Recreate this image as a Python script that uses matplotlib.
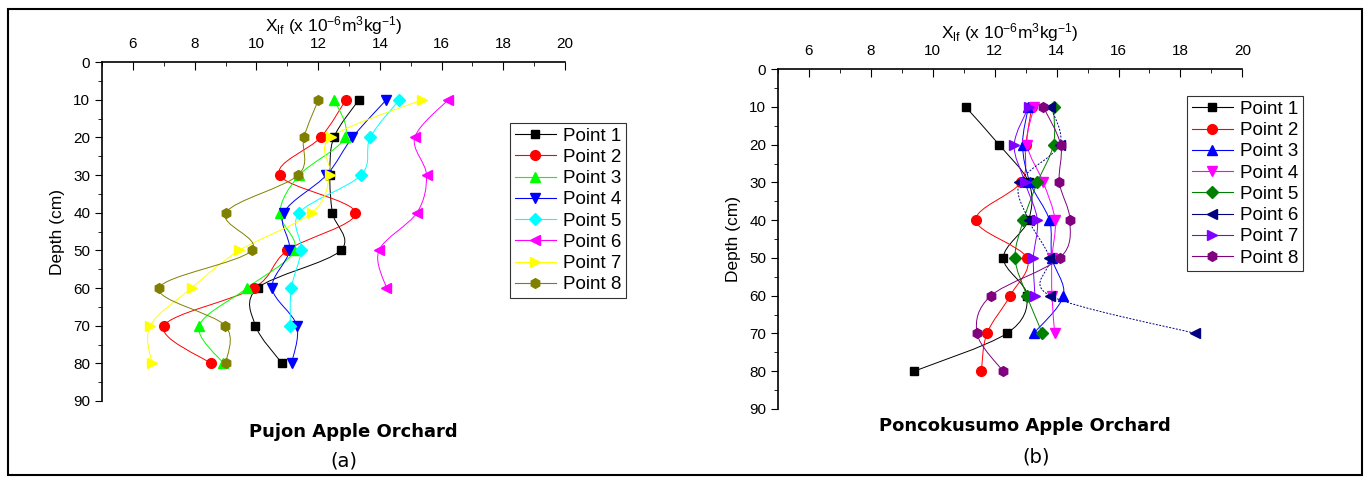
import numpy as np
import matplotlib
matplotlib.use("Agg")
import matplotlib.pyplot as plt
from matplotlib.path import Path
from matplotlib.patches import PathPatch, Rectangle
from matplotlib.lines import Line2D

plt.rcParams["font.family"] = ["Liberation Sans", "DejaVu Sans"]
plt.rcParams["mathtext.fontset"] = "custom"
plt.rcParams["mathtext.rm"] = "Liberation Sans"
plt.rcParams["mathtext.it"] = "Liberation Sans:italic"

depth = [10, 20, 30, 40, 50, 60, 70, 80]
labels = ["Point 1", "Point 2", "Point 3", "Point 4", "Point 5", "Point 6", "Point 7", "Point 8"]

# Pujon (a)
pujon = [
    [13.32, 12.51, 12.38, 12.46, 12.73, 10.04, 9.97, 10.83],
    [12.90, 12.08, 10.75, 13.21, 11.00, 9.92, 7.01, 8.52],
    [12.52, 12.87, 11.39, 10.76, 11.23, 9.70, 8.15, 8.93],
    [14.21, 13.11, 12.27, 10.89, 11.07, 10.51, 11.31, 11.14],
    [14.63, 13.69, 13.39, 11.39, 11.45, 11.13, 11.10],
    [16.21, 15.13, 15.51, 15.20, 13.97, 14.21],
    [15.37, 12.41, 12.38, 11.80, 9.45, 7.90, 6.56, 6.61],
    [12.01, 11.54, 11.35, 9.01, 9.85, 6.85, 8.99, 9.01],
]
pujon_colors = ["black", "red", "#00ff00", "#0000ff", "#00ffff", "#ff00ff", "#ffff00", "#808000"]

# Poncokusumo (b)
ponco = [
    [11.06, 12.14, 13.10, 13.09, 12.28, 13.05, 12.39, 9.40],
    [13.20, 13.00, 12.85, 11.39, 13.04, 12.50, 11.75, 11.57],
    [13.09, 12.90, 13.14, 13.77, 13.85, 14.22, 13.26],
    [13.27, 13.05, 13.57, 13.95, 13.85, 13.85, 13.94],
    [13.90, 13.90, 13.38, 12.93, 12.66, 13.04, 13.54],
    [13.80, 14.10, 12.80, 13.10, 13.77, 13.79, 18.48],
    [13.10, 12.63, 12.98, 13.38, 13.25, 13.30],
    [13.57, 14.13, 14.09, 14.43, 14.11, 11.88, 11.43, 12.27],
]
ponco_colors = ["black", "red", "#0000ff", "#ff00ff", "#008000", "#000080", "#8000ff", "#800080"]

markers = ["s", "o", "^", "v", "D", "<", ">", "h"]
msizes = [6, 7, 7, 7, 6, 7, 7, 7]


def smooth_path(xs, ys):
    # catmull-rom curve through the points as cubic bezier segments
    pts = np.column_stack([xs, ys])
    n = len(pts)
    verts = [pts[0]]
    codes = [Path.MOVETO]
    for i in range(n - 1):
        p0 = pts[i - 1] if i > 0 else pts[i]
        p1 = pts[i]
        p2 = pts[i + 1]
        p3 = pts[i + 2] if i + 2 < n else pts[i + 1]
        c1 = p1 + (p2 - p0) / 6.0
        c2 = p2 - (p3 - p1) / 6.0
        verts += [c1, c2, p2]
        codes += [Path.CURVE4] * 3
    return Path(verts, codes)


def draw_panel(ax, data, colors, dashed6):
    handles = []
    for i, vals in enumerate(data):
        d = depth[:len(vals)]
        ls = (0, (2, 1.5)) if (dashed6 and i == 5) else "-"
        ax.add_patch(PathPatch(smooth_path(vals, d), facecolor="none",
                               edgecolor=colors[i], lw=0.7, linestyle=ls, zorder=2))
        ax.plot(vals, d, linestyle="none", marker=markers[i], color=colors[i],
                markersize=msizes[i], zorder=3)
        handles.append(Line2D([], [], color=colors[i], lw=0.8, marker=markers[i],
                              markersize=msizes[i]))
    ax.set_xlim(5, 20)
    ax.set_ylim(90, 0)
    ax.xaxis.tick_top()
    ax.xaxis.set_label_position("top")
    ax.set_xticks(range(6, 21, 2))
    ax.set_xticks(range(5, 21, 1), minor=True)
    ax.set_yticks(range(0, 91, 10))
    ax.set_yticks(range(5, 91, 10), minor=True)
    ax.tick_params(axis="x", which="both", direction="in", labelsize=11, pad=8)
    ax.tick_params(axis="x", which="major", length=6)
    ax.tick_params(axis="x", which="minor", length=3)
    ax.tick_params(axis="y", which="major", direction="out", length=5, labelsize=11)
    ax.tick_params(axis="y", which="minor", direction="out", length=3)
    for s in ["right", "bottom"]:
        ax.spines[s].set_visible(False)
    ax.spines["left"].set_linewidth(1.2)
    ax.spines["top"].set_linewidth(1.2)
    ax.set_xlabel(r"X$_{\mathrm{lf}}$ (x 10$^{-6}$m$^{3}$kg$^{-1}$)", fontsize=12.5, labelpad=4)
    ax.set_ylabel("Depth (cm)", fontsize=12.5, labelpad=6)
    return handles


fig = plt.figure(figsize=(13.66, 4.8), dpi=100)
ax1 = fig.add_axes([0.0747, 0.1646, 0.339, 0.706])
ax2 = fig.add_axes([0.5695, 0.148, 0.340, 0.708])

h1 = draw_panel(ax1, pujon, pujon_colors, False)
h2 = draw_panel(ax2, ponco, ponco_colors, True)

for ax, h, anchor in [(ax1, h1, (0.3734, 0.744)), (ax2, h2, (0.869, 0.80))]:
    leg = ax.legend(h, labels, loc="upper left", bbox_to_anchor=anchor,
                    bbox_transform=fig.transFigure, fontsize=13.5, frameon=True,
                    fancybox=False, edgecolor="black", handlelength=2.2,
                    handletextpad=0.35, borderpad=0.25, labelspacing=0.22,
                    borderaxespad=0)
    leg.get_frame().set_linewidth(0.8)

fig.text(353 / 1366, 1 - 432 / 480, "Pujon Apple Orchard", ha="center", va="center",
         fontsize=13, fontweight="bold", family="DejaVu Sans")
fig.text(344 / 1366, 1 - 461 / 480, "(a)", ha="center", va="center", fontsize=14,
         family="DejaVu Sans")
fig.text(1025 / 1366, 1 - 426 / 480, "Poncokusumo Apple Orchard", ha="center", va="center",
         fontsize=13, fontweight="bold", family="DejaVu Sans")
fig.text(1036 / 1366, 1 - 457 / 480, "(b)", ha="center", va="center", fontsize=14,
         family="DejaVu Sans")

fig.patches.append(Rectangle((8 / 1366, 5 / 480), 1354 / 1366, 466 / 480,
                             transform=fig.transFigure, fill=False,
                             edgecolor="black", lw=1.5))

fig.savefig("out.png", dpi=100)
